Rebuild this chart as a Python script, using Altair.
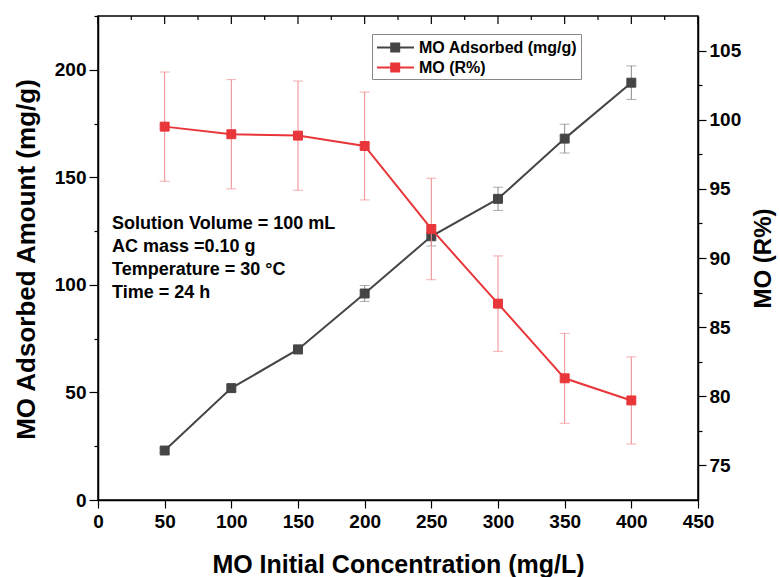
import altair as alt
import pandas as pd

# ---- data ----
conc = [50, 100, 150, 200, 250, 300, 350, 400]
adsorbed = [23.0, 52.0, 70.0, 96.0, 122.6, 140.0, 168.0, 194.0]
adsorbed_err = [1.0, 1.5, 2.0, 3.7, 4.5, 5.4, 6.7, 7.8]
removal = [99.5, 98.95, 98.85, 98.1, 92.1, 86.7, 81.3, 79.7]
removal_err = [3.95, 3.95, 3.95, 3.9, 3.67, 3.45, 3.25, 3.15]

series_names = ["MO Adsorbed (mg/g)", "MO (R%)"]
series_colors = ["#454545", "#e8363a"]

x_ticks = list(range(0, 451, 25))
left_ticks = list(range(0, 226, 25))
right_ticks = [75 + 2.5 * i for i in range(13)]

notes = ["Solution Volume = 100 mL", "AC mass =0.10 g", "Temperature = 30 \u00b0C", "Time = 24 h"]

FONT = "Liberation Sans"

df_k = pd.DataFrame({
    "conc": conc,
    "val": adsorbed,
    "lo": [v - e for v, e in zip(adsorbed, adsorbed_err)],
    "hi": [v + e for v, e in zip(adsorbed, adsorbed_err)],
    "series": series_names[0],
})
df_r = pd.DataFrame({
    "conc": conc,
    "val": removal,
    "lo": [v - e for v, e in zip(removal, removal_err)],
    "hi": [v + e for v, e in zip(removal, removal_err)],
    "series": series_names[1],
})
df_ticks = pd.DataFrame({"t": x_ticks, "major": [t % 50 == 0 for t in x_ticks]})

color_scale = alt.Scale(domain=series_names, range=series_colors)
legend = alt.Legend(
    title=None,
    orient="none",
    legendX=274,
    legendY=18,
    symbolType="M-0.9,0H3M0.6,-0.42H1.44V0.42H0.6Z",
    symbolSize=361,
    symbolStrokeWidth=2,
    labelFont=FONT,
    labelFontSize=16,
    labelFontWeight="bold",
    labelColor="black",
    labelOffset=23,
    strokeColor="#888888",
    fillColor="white",
    padding=3,
    rowPadding=1,
)

x_enc = alt.X(
    "conc:Q",
    scale=alt.Scale(domain=[0, 450], nice=False, zero=False),
    axis=alt.Axis(
        values=x_ticks,
        labelExpr="datum.value % 50 === 0 ? datum.label : ''",
        tickSize={"condition": {"test": "datum.value % 50 === 0", "value": 8}, "value": 4},
        labelFlush=False,
        labelOverlap=False,
        labelPadding=4,
        title="MO Initial Concentration (mg/L)",
        titleFontSize=25,
        titleX=300,
        titleY=64,
        titleBaseline="middle",
    ),
)

left_axis = alt.Axis(
    values=left_ticks,
    labelExpr="datum.value % 50 === 0 ? datum.label : ''",
    tickSize={"condition": {"test": "datum.value % 50 === 0", "value": 9}, "value": 4},
    labelOverlap=False,
    labelPadding=3,
    title="MO Adsorbed Amount (mg/g)",
    titleFontSize=26,
    titleAngle=270,
    titleX=-72,
    titleY=243,
    titleBaseline="middle",
    titleAlign="center",
)
right_axis = alt.Axis(
    orient="right",
    values=right_ticks,
    labelExpr="datum.value % 5 === 0 ? datum.label : ''",
    tickSize={"condition": {"test": "datum.value % 5 === 0", "value": 8}, "value": 4},
    labelOverlap=False,
    labelPadding=3,
    title="MO (R%)",
    titleFontSize=24,
    titleAngle=270,
    titleX=65,
    titleY=242,
    titleBaseline="middle",
    titleAlign="center",
)

yk = alt.Scale(domain=[0, 225], nice=False, zero=False)
yr = alt.Scale(domain=[72.5, 107.5], nice=False, zero=False)

# ---- left series (adsorbed amount) ----
base_k = alt.Chart(df_k)
k_rule = base_k.mark_rule(strokeWidth=1, color="#8a8a8a").encode(
    x=x_enc, y=alt.Y("lo:Q", scale=yk, axis=left_axis), y2="hi:Q")
k_cap_lo = base_k.mark_tick(orient="horizontal", size=10, thickness=1, color="#8a8a8a").encode(
    x="conc:Q", y=alt.Y("lo:Q", scale=yk))
k_cap_hi = base_k.mark_tick(orient="horizontal", size=10, thickness=1, color="#8a8a8a").encode(
    x="conc:Q", y=alt.Y("hi:Q", scale=yk))
k_line = base_k.mark_line(strokeWidth=2).encode(
    x="conc:Q", y=alt.Y("val:Q", scale=yk),
    stroke=alt.Stroke("series:N", scale=color_scale, legend=legend))
k_pts = base_k.mark_point(shape="square", filled=True, size=80, opacity=1, strokeWidth=1).encode(
    x="conc:Q", y=alt.Y("val:Q", scale=yk),
    fill=alt.Fill("series:N", scale=color_scale, legend=legend),
    stroke=alt.Stroke("series:N", scale=color_scale, legend=legend))

top_major = alt.Chart(df_ticks).transform_filter("datum.major").mark_rule(color="black", strokeWidth=1.2).encode(
    x="t:Q", y=alt.value(0), y2=alt.value(8))
top_minor = alt.Chart(df_ticks).transform_filter("!datum.major").mark_rule(color="black", strokeWidth=1.2).encode(
    x="t:Q", y=alt.value(0), y2=alt.value(4))

note = alt.Chart(alt.Data(values=[{}])).mark_text(
    align="left", baseline="top", font=FONT, fontSize=18, fontWeight="bold",
    lineHeight=23, color="black",
).encode(x=alt.value(14), y=alt.value(199), text=alt.value(notes))

left = alt.layer(k_rule, k_cap_lo, k_cap_hi, top_major, top_minor, note, k_line, k_pts)

# ---- right series (removal %) ----
base_r = alt.Chart(df_r)
r_rule = base_r.mark_rule(strokeWidth=1, color="#f08a8c").encode(
    x="conc:Q", y=alt.Y("lo:Q", scale=yr, axis=right_axis), y2="hi:Q")
r_cap_lo = base_r.mark_tick(orient="horizontal", size=10, thickness=1, color="#f08a8c").encode(
    x="conc:Q", y=alt.Y("lo:Q", scale=yr))
r_cap_hi = base_r.mark_tick(orient="horizontal", size=10, thickness=1, color="#f08a8c").encode(
    x="conc:Q", y=alt.Y("hi:Q", scale=yr))
r_line = base_r.mark_line(strokeWidth=2).encode(
    x="conc:Q", y=alt.Y("val:Q", scale=yr),
    stroke=alt.Stroke("series:N", scale=color_scale, legend=legend))
r_pts = base_r.mark_point(shape="square", filled=True, size=80, opacity=1, strokeWidth=1).encode(
    x="conc:Q", y=alt.Y("val:Q", scale=yr),
    fill=alt.Fill("series:N", scale=color_scale, legend=legend),
    stroke=alt.Stroke("series:N", scale=color_scale, legend=legend))

right = alt.layer(r_rule, r_cap_lo, r_cap_hi, r_line, r_pts)

chart = alt.layer(left, right).resolve_scale(y="independent").properties(
    width=600,
    height=484,
    autosize=alt.AutoSizeParams(type="none"),
    padding={"left": 98, "top": 16, "right": 82, "bottom": 77},
    background="white",
).configure_view(
    stroke="black", strokeWidth=1.5,
).configure_axis(
    grid=False,
    domainColor="black",
    domainWidth=1.5,
    tickColor="black",
    tickWidth=1.2,
    labelFont=FONT,
    labelFontSize=19,
    labelFontWeight="bold",
    labelColor="black",
    titleFont=FONT,
    titleFontSize=24,
    titleFontWeight="bold",
    titleColor="black",
)

chart.save("out.html", embed_options={"renderer": "svg", "actions": False})
